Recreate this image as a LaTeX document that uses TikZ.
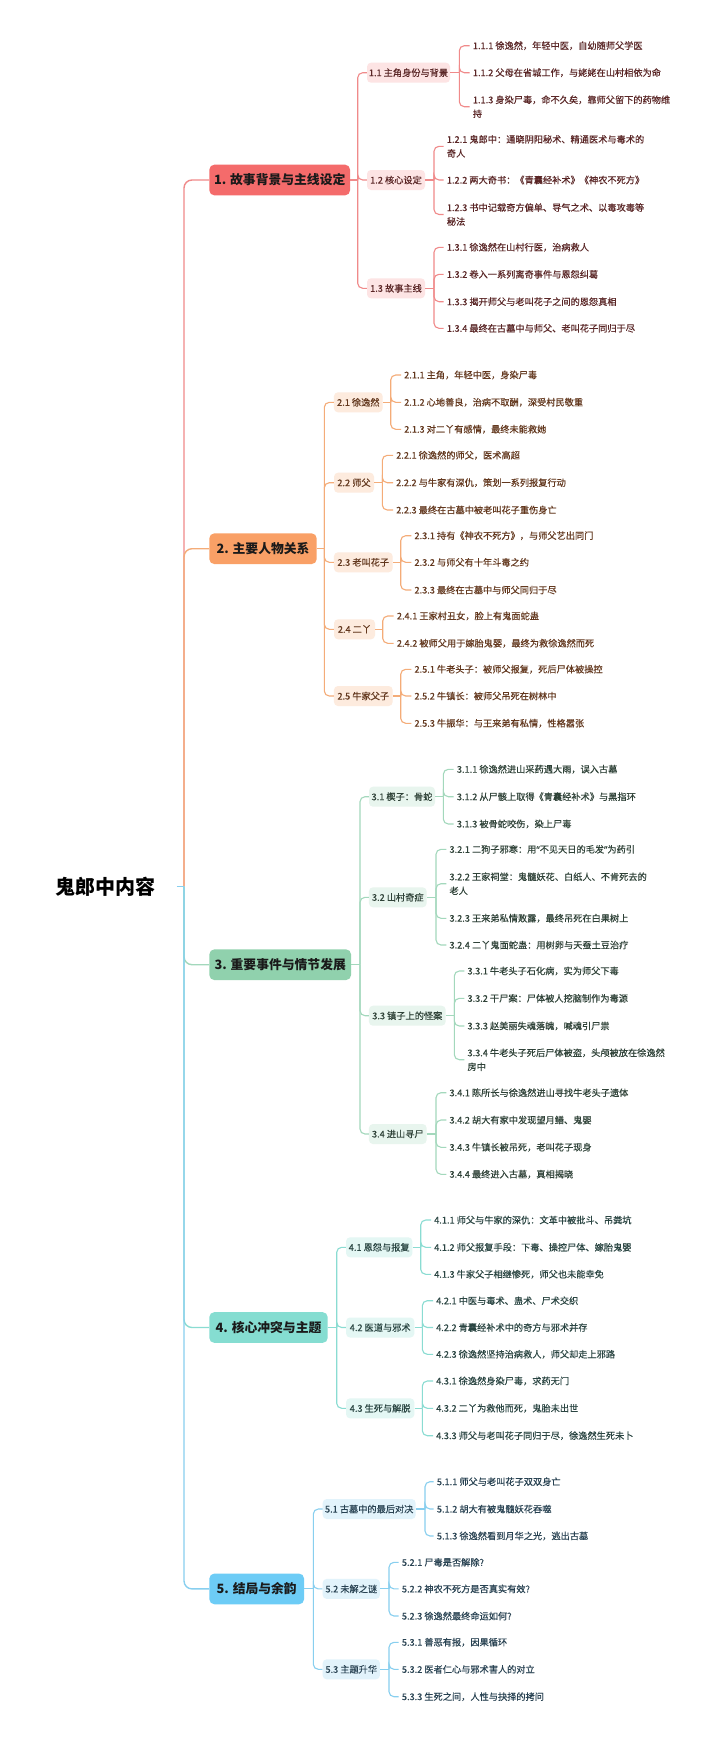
\documentclass[tikz,border=0pt]{standalone}
\usepackage{fontspec}
\setmainfont{Noto Sans CJK SC}
\newfontfamily\leafcjk[FakeBold=0.35]{Noto Sans CJK SC}
\newfontfamily\quotefont[FakeBold=0.35]{Noto Sans}
\definecolor{lineA}{HTML}{F08A8A}\definecolor{fillA}{HTML}{F46B6B}\definecolor{subA}{HTML}{FDE4E4}\definecolor{txtA}{HTML}{5A2626}
\definecolor{lineB}{HTML}{F4AC78}\definecolor{fillB}{HTML}{F9A066}\definecolor{subB}{HTML}{FDEBDE}\definecolor{txtB}{HTML}{63381E}
\definecolor{lineC}{HTML}{A3D8BC}\definecolor{fillC}{HTML}{90D1AD}\definecolor{subC}{HTML}{E8F5EE}\definecolor{txtC}{HTML}{2F4238}
\definecolor{lineD}{HTML}{8ADCD2}\definecolor{fillD}{HTML}{85DDD1}\definecolor{subD}{HTML}{E4F7F4}\definecolor{txtD}{HTML}{2A4542}
\definecolor{lineE}{HTML}{88CFEF}\definecolor{fillE}{HTML}{6DCCF6}\definecolor{subE}{HTML}{E2F3FB}\definecolor{txtE}{HTML}{284252}
\definecolor{secTxt}{HTML}{1A1A1A}
\newcommand\leaffont{\leafcjk\fontsize{9.2}{14}\selectfont}
\newcommand\secfont{\fontsize{12.8}{15}\selectfont\bfseries}
\newcommand\rootfont{\fontsize{20}{24}\selectfont\bfseries}
\tikzset{
  rootnode/.style={inner xsep=21.7pt, inner ysep=2pt, font=\rootfont, text=black},
  secnode/.style={rounded corners=5pt, minimum height=30.7pt, inner sep=0pt, font=\secfont, text=secTxt},
  subnode/.style={rounded corners=4pt, minimum height=20pt, inner sep=0pt, font=\leaffont},
  leafnode/.style={anchor=west, inner xsep=3pt, inner ysep=1pt, font=\leaffont, align=left},
  mainline/.style={line width=1.4pt, rounded corners=8pt},
  subline/.style={line width=1.1pt, rounded corners=5pt},
}
\newcommand\mkleaf[5]{\node[leafnode,text=#5] (#1) at (#2-3,#3) {#4};}
\newcommand\kid[3]{\draw[subline,#3] (#1) |- (#2.west);}
\begin{document}
\begin{tikzpicture}[x=1pt,y=-1pt]
\useasboundingbox[fill=white] (0,0) rectangle (720,1741);
\node[rootnode] (root) at (105,886.7) {鬼郎中内容};
\coordinate (rj) at (184,886.7);

% ================= Section 1 =================
\node[secnode,fill=fillA,minimum width=140.7pt] (s1) at (279.7,180) {1. 故事背景与主线设定};
\draw[mainline,lineA] (rj) |- (s1.west);
\coordinate (t1) at (357.7,180);
\draw[subline,lineA] (s1.east) -- (t1);
\node[subnode,fill=subA,text=txtA,minimum width=83pt] (s11) at (408.5,72.7) {1.1 主角身份与背景};
\node[subnode,fill=subA,text=txtA,minimum width=58pt] (s12) at (396,180) {1.2 核心设定};
\node[subnode,fill=subA,text=txtA,minimum width=58pt] (s13) at (396,288.3) {1.3 故事主线};
\kid{t1}{s11}{lineA}\kid{t1}{s12}{lineA}\kid{t1}{s13}{lineA}
\coordinate (b11) at (459.3,72.7);
\draw[subline,lineA] (s11.east) -- (b11);
\mkleaf{l111}{472.7}{45.7}{1.1.1 徐逸然，年轻中医，自幼随师父学医}{txtA}
\mkleaf{l112}{472.7}{72.7}{1.1.2 父母在省城工作，与姥姥在山村相依为命}{txtA}
\mkleaf{l113}{472.7}{106.7}{1.1.3 身染尸毒，命不久矣，靠师父留下的药物维\\持}{txtA}
\kid{b11}{l111}{lineA}\kid{b11}{l112}{lineA}\kid{b11}{l113}{lineA}
\coordinate (b12) at (434,180);
\draw[subline,lineA] (s12.east) -- (b12);
\mkleaf{l121}{446.7}{146.3}{1.2.1 鬼郎中：通晓阴阳秘术、精通医术与毒术的\\奇人}{txtA}
\mkleaf{l122}{446.7}{180}{1.2.2 两大奇书：《青囊经补术》《神农不死方》}{txtA}
\mkleaf{l123}{446.7}{214.5}{1.2.3 书中记载奇方偏单、导气之术、以毒攻毒等\\秘法}{txtA}
\kid{b12}{l121}{lineA}\kid{b12}{l122}{lineA}\kid{b12}{l123}{lineA}
\coordinate (b13) at (434,288.3);
\draw[subline,lineA] (s13.east) -- (b13);
\mkleaf{l131}{446.7}{247.3}{1.3.1 徐逸然在山村行医，治病救人}{txtA}
\mkleaf{l132}{446.7}{274.3}{1.3.2 卷入一系列离奇事件与恩怨纠葛}{txtA}
\mkleaf{l133}{446.7}{301.7}{1.3.3 揭开师父与老叫花子之间的恩怨真相}{txtA}
\mkleaf{l134}{446.7}{328.3}{1.3.4 最终在古墓中与师父、老叫花子同归于尽}{txtA}
\kid{b13}{l131}{lineA}\kid{b13}{l132}{lineA}\kid{b13}{l133}{lineA}\kid{b13}{l134}{lineA}

% ================= Section 2 =================
\node[secnode,fill=fillB,minimum width=107.4pt] (s2) at (263,548.7) {2. 主要人物关系};
\draw[mainline,lineB] (rj) |- (s2.west);
\coordinate (t2) at (324.3,548.7);
\draw[subline,lineB] (s2.east) -- (t2);
\node[subnode,fill=subB,text=txtB,minimum width=48.7pt] (s21) at (358.3,402.3) {2.1 徐逸然};
\node[subnode,fill=subB,text=txtB,minimum width=40pt] (s22) at (354,482.7) {2.2 师父};
\node[subnode,fill=subB,text=txtB,minimum width=58.7pt] (s23) at (363.3,562.3) {2.3 老叫花子};
\node[subnode,fill=subB,text=txtB,minimum width=41pt] (s24) at (354.5,629.3) {2.4 二丫};
\node[subnode,fill=subB,text=txtB,minimum width=58.7pt] (s25) at (363.3,696) {2.5 牛家父子};
\kid{t2}{s21}{lineB}\kid{t2}{s22}{lineB}\kid{t2}{s23}{lineB}\kid{t2}{s24}{lineB}\kid{t2}{s25}{lineB}
\coordinate (b21) at (390.7,402.3);
\draw[subline,lineB] (s21.east) -- (b21);
\mkleaf{l211}{404}{375}{2.1.1 主角，年轻中医，身染尸毒}{txtB}
\mkleaf{l212}{404}{402.3}{2.1.2 心地善良，治病不取酬，深受村民敬重}{txtB}
\mkleaf{l213}{404}{429.3}{2.1.3 对二丫有感情，最终未能救她}{txtB}
\kid{b21}{l211}{lineB}\kid{b21}{l212}{lineB}\kid{b21}{l213}{lineB}
\coordinate (b22) at (382.3,482.7);
\draw[subline,lineB] (s22.east) -- (b22);
\mkleaf{l221}{396}{455.3}{2.2.1 徐逸然的师父，医术高超}{txtB}
\mkleaf{l222}{396}{482.7}{2.2.2 与牛家有深仇，策划一系列报复行动}{txtB}
\mkleaf{l223}{396}{510}{2.2.3 最终在古墓中被老叫花子重伤身亡}{txtB}
\kid{b22}{l221}{lineB}\kid{b22}{l222}{lineB}\kid{b22}{l223}{lineB}
\coordinate (b23) at (400.7,562.3);
\draw[subline,lineB] (s23.east) -- (b23);
\mkleaf{l231}{414.3}{535.7}{2.3.1 持有《神农不死方》，与师父艺出同门}{txtB}
\mkleaf{l232}{414.3}{562.3}{2.3.2 与师父有十年斗毒之约}{txtB}
\mkleaf{l233}{414.3}{590}{2.3.3 最终在古墓中与师父同归于尽}{txtB}
\kid{b23}{l231}{lineB}\kid{b23}{l232}{lineB}\kid{b23}{l233}{lineB}
\coordinate (b24) at (382.7,629.3);
\draw[subline,lineB] (s24.east) -- (b24);
\mkleaf{l241}{396.7}{616}{2.4.1 王家村丑女，脸上有鬼面蛇蛊}{txtB}
\mkleaf{l242}{396.7}{643.3}{2.4.2 被师父用于嫁胎鬼婴，最终为救徐逸然而死}{txtB}
\kid{b24}{l241}{lineB}\kid{b24}{l242}{lineB}
\coordinate (b25) at (400.7,696);
\draw[subline,lineB] (s25.east) -- (b25);
\mkleaf{l251}{414.3}{669.3}{2.5.1 牛老头子：被师父报复，死后尸体被操控}{txtB}
\mkleaf{l252}{414.3}{696}{2.5.2 牛镇长：被师父吊死在树林中}{txtB}
\mkleaf{l253}{414.3}{723.3}{2.5.3 牛振华：与王来弟有私情，性格嚣张}{txtB}
\kid{b25}{l251}{lineB}\kid{b25}{l252}{lineB}\kid{b25}{l253}{lineB}

% ================= Section 3 =================
\node[secnode,fill=fillC,minimum width=141.7pt] (s3) at (280.2,964.7) {3. 重要事件与情节发展};
\draw[mainline,lineC] (rj) |- (s3.west);
\coordinate (t3) at (360,964.7);
\draw[subline,lineC] (s3.east) -- (t3);
\node[subnode,fill=subC,text=txtC,minimum width=66pt] (s31) at (402,796.7) {3.1 楔子：骨蛇};
\node[subnode,fill=subC,text=txtC,minimum width=57.7pt] (s32) at (397.8,897.3) {3.2 山村奇症};
\node[subnode,fill=subC,text=txtC,minimum width=76.7pt] (s33) at (407.3,1015.7) {3.3 镇子上的怪案};
\node[subnode,fill=subC,text=txtC,minimum width=57.7pt] (s34) at (397.8,1134) {3.4 进山寻尸};
\kid{t3}{s31}{lineC}\kid{t3}{s32}{lineC}\kid{t3}{s33}{lineC}\kid{t3}{s34}{lineC}
\coordinate (b31) at (443.3,796.7);
\draw[subline,lineC] (s31.east) -- (b31);
\mkleaf{l311}{456.7}{769.3}{3.1.1 徐逸然进山采药遇大雨，误入古墓}{txtC}
\mkleaf{l312}{456.7}{796.7}{3.1.2 从尸骸上取得《青囊经补术》与黑指环}{txtC}
\mkleaf{l313}{456.7}{824}{3.1.3 被骨蛇咬伤，染上尸毒}{txtC}
\kid{b31}{l311}{lineC}\kid{b31}{l312}{lineC}\kid{b31}{l313}{lineC}
\coordinate (b32) at (436,897.3);
\draw[subline,lineC] (s32.east) -- (b32);
\mkleaf{l321}{449.3}{849.3}{3.2.1 二狗子邪寒：用{\quotefont“}不见天日的毛发{\quotefont”}为药引}{txtC}
\mkleaf{l322}{449.3}{883.7}{3.2.2 王家祠堂：鬼髓妖花、白纸人、不肯死去的\\老人}{txtC}
\mkleaf{l323}{449.3}{918.3}{3.2.3 王来弟私情败露，最终吊死在白果树上}{txtC}
\mkleaf{l324}{449.3}{945}{3.2.4 二丫鬼面蛇蛊：用树卵与天蚕土豆治疗}{txtC}
\kid{b32}{l321}{lineC}\kid{b32}{l322}{lineC}\kid{b32}{l323}{lineC}\kid{b32}{l324}{lineC}
\coordinate (b33) at (454.3,1015.7);
\draw[subline,lineC] (s33.east) -- (b33);
\mkleaf{l331}{467.3}{971}{3.3.1 牛老头子石化病，实为师父下毒}{txtC}
\mkleaf{l332}{467.3}{998.3}{3.3.2 干尸案：尸体被人挖脑制作为毒源}{txtC}
\mkleaf{l333}{467.3}{1026}{3.3.3 赵美丽失魂落魄，喊魂引尸祟}{txtC}
\mkleaf{l334}{467.3}{1059.7}{3.3.4 牛老头子死后尸体被盗，头颅被放在徐逸然\\房中}{txtC}
\kid{b33}{l331}{lineC}\kid{b33}{l332}{lineC}\kid{b33}{l333}{lineC}\kid{b33}{l334}{lineC}
\coordinate (b34) at (436,1134);
\draw[subline,lineC] (s34.east) -- (b34);
\mkleaf{l341}{449.3}{1092.7}{3.4.1 陈所长与徐逸然进山寻找牛老头子遗体}{txtC}
\mkleaf{l342}{449.3}{1120}{3.4.2 胡大有家中发现望月鳝、鬼婴}{txtC}
\mkleaf{l343}{449.3}{1147.3}{3.4.3 牛镇长被吊死，老叫花子现身}{txtC}
\mkleaf{l344}{449.3}{1174.3}{3.4.4 最终进入古墓，真相揭晓}{txtC}
\kid{b34}{l341}{lineC}\kid{b34}{l342}{lineC}\kid{b34}{l343}{lineC}\kid{b34}{l344}{lineC}

% ================= Section 4 =================
\node[secnode,fill=fillD,minimum width=118.4pt] (s4) at (268.5,1327.5) {4. 核心冲突与主题};
\draw[mainline,lineD] (rj) |- (s4.west);
\coordinate (t4) at (336.7,1327.5);
\draw[subline,lineD] (s4.east) -- (t4);
\node[subnode,fill=subD,text=txtD,minimum width=66.3pt] (s41) at (379.2,1247.3) {4.1 恩怨与报复};
\node[subnode,fill=subD,text=txtD,minimum width=68.3pt] (s42) at (380.2,1327.5) {4.2 医道与邪术};
\node[subnode,fill=subD,text=txtD,minimum width=68.3pt] (s43) at (380.2,1408.3) {4.3 生死与解脱};
\kid{t4}{s41}{lineD}\kid{t4}{s42}{lineD}\kid{t4}{s43}{lineD}
\coordinate (b41) at (420.7,1247.3);
\draw[subline,lineD] (s41.east) -- (b41);
\mkleaf{l411}{434}{1220}{4.1.1 师父与牛家的深仇：文革中被批斗、吊粪坑}{txtD}
\mkleaf{l412}{434}{1247.3}{4.1.2 师父报复手段：下毒、操控尸体、嫁胎鬼婴}{txtD}
\mkleaf{l413}{434}{1274.3}{4.1.3 牛家父子相继惨死，师父也未能幸免}{txtD}
\kid{b41}{l411}{lineD}\kid{b41}{l412}{lineD}\kid{b41}{l413}{lineD}
\coordinate (b42) at (422.3,1327.5);
\draw[subline,lineD] (s42.east) -- (b42);
\mkleaf{l421}{436}{1300.7}{4.2.1 中医与毒术、蛊术、尸术交织}{txtD}
\mkleaf{l422}{436}{1327.5}{4.2.2 青囊经补术中的奇方与邪术并存}{txtD}
\mkleaf{l423}{436}{1354.3}{4.2.3 徐逸然坚持治病救人，师父却走上邪路}{txtD}
\kid{b42}{l421}{lineD}\kid{b42}{l422}{lineD}\kid{b42}{l423}{lineD}
\coordinate (b43) at (422.3,1408.3);
\draw[subline,lineD] (s43.east) -- (b43);
\mkleaf{l431}{436}{1381}{4.3.1 徐逸然身染尸毒，求药无门}{txtD}
\mkleaf{l432}{436}{1408.3}{4.3.2 二丫为救他而死，鬼胎未出世}{txtD}
\mkleaf{l433}{436}{1435.7}{4.3.3 师父与老叫花子同归于尽，徐逸然生死未卜}{txtD}
\kid{b43}{l431}{lineD}\kid{b43}{l432}{lineD}\kid{b43}{l433}{lineD}

% ================= Section 5 =================
\node[secnode,fill=fillE,minimum width=94.7pt] (s5) at (256.7,1588.9) {5. 结局与余韵};
\draw[mainline,lineE] (rj) |- (s5.west);
\draw[mainline,lineE] (root.east) -- (rj);
\coordinate (t5) at (313.3,1588.9);
\draw[subline,lineE] (s5.east) -- (t5);
\node[subnode,fill=subE,text=txtE,minimum width=93pt] (s51) at (369.2,1509) {5.1 古墓中的最后对决};
\node[subnode,fill=subE,text=txtE,minimum width=57.3pt] (s52) at (351.3,1588.9) {5.2 未解之谜};
\node[subnode,fill=subE,text=txtE,minimum width=57.3pt] (s53) at (351.3,1669.3) {5.3 主题升华};
\kid{t5}{s51}{lineE}\kid{t5}{s52}{lineE}\kid{t5}{s53}{lineE}
\coordinate (b51) at (425,1509);
\draw[subline,lineE] (s51.east) -- (b51);
\mkleaf{l511}{436.7}{1481.7}{5.1.1 师父与老叫花子双双身亡}{txtE}
\mkleaf{l512}{436.7}{1509}{5.1.2 胡大有被鬼髓妖花吞噬}{txtE}
\mkleaf{l513}{436.7}{1536}{5.1.3 徐逸然看到月华之光，逃出古墓}{txtE}
\kid{b51}{l511}{lineE}\kid{b51}{l512}{lineE}\kid{b51}{l513}{lineE}
\coordinate (b52) at (389,1588.9);
\draw[subline,lineE] (s52.east) -- (b52);
\mkleaf{l521}{401.7}{1562.3}{5.2.1 尸毒是否解除?}{txtE}
\mkleaf{l522}{401.7}{1588.9}{5.2.2 神农不死方是否真实有效?}{txtE}
\mkleaf{l523}{401.7}{1616}{5.2.3 徐逸然最终命运如何?}{txtE}
\kid{b52}{l521}{lineE}\kid{b52}{l522}{lineE}\kid{b52}{l523}{lineE}
\coordinate (b53) at (389,1669.3);
\draw[subline,lineE] (s53.east) -- (b53);
\mkleaf{l531}{401.7}{1642.3}{5.3.1 善恶有报，因果循环}{txtE}
\mkleaf{l532}{401.7}{1669.3}{5.3.2 医者仁心与邪术害人的对立}{txtE}
\mkleaf{l533}{401.7}{1696.7}{5.3.3 生死之间，人性与抉择的拷问}{txtE}
\kid{b53}{l531}{lineE}\kid{b53}{l532}{lineE}\kid{b53}{l533}{lineE}
\end{tikzpicture}
\end{document}
